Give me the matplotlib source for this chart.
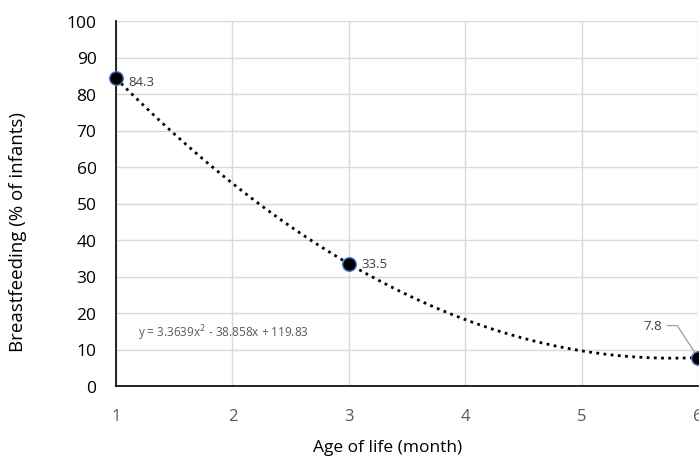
import numpy as np
import matplotlib.pyplot as plt

plt.rcParams['font.family'] = ['Open Sans', 'DejaVu Sans']

# data
age = [1, 3, 6]
breastfeeding = [84.3, 33.5, 7.8]
point_labels = ['84.3', '33.5', '7.8']
x_ticks = [1, 2, 3, 4, 5, 6]
y_ticks = [0, 10, 20, 30, 40, 50, 60, 70, 80, 90, 100]

# quadratic trend line through the points
coef = np.polyfit(age, breastfeeding, 2)
xs = np.linspace(1, 6, 200)
ys = np.polyval(coef, xs)

fig = plt.figure(figsize=(6.99, 4.64), dpi=100)
ax = fig.add_axes([116/699, (464-387)/464, (698-116)/699, (387-22)/464])

ax.plot(xs, ys, color='black', linestyle=(0, (1, 1.6)), linewidth=2, zorder=3)
ax.scatter(age, breastfeeding, s=95, color='black', edgecolors='#4472c4',
           linewidths=1, zorder=4, clip_on=False)

ax.annotate(point_labels[0], (age[0], breastfeeding[0]), xytext=(9, -2.5),
            textcoords='offset points', fontsize=9.5, color='#404040', va='center')
ax.annotate(point_labels[1], (age[1], breastfeeding[1]), xytext=(9, 0),
            textcoords='offset points', fontsize=9.5, color='#404040', va='center')
ax.annotate(point_labels[2], (age[2], breastfeeding[2]), xytext=(-26, 23),
            textcoords='offset points', fontsize=9.5, color='#404040',
            va='center', ha='right',
            arrowprops=dict(arrowstyle='-', color='#a6a6a6', lw=1,
                            connectionstyle='angle,angleA=0,angleB=123,rad=0',
                            shrinkA=2, shrinkB=0))

ax.text(1.19, 14.8, 'y = 3.3639x$^2$ - 38.858x + 119.83', fontsize=8.5,
        color='#595959', va='center')

ax.set_xlim(1, 6)
ax.set_ylim(0, 100)
ax.set_xticks(x_ticks)
ax.set_yticks(y_ticks)
ax.grid(True, color='#d9d9d9', linewidth=1)
ax.set_axisbelow(True)
for s in ['top', 'right']:
    ax.spines[s].set_visible(False)
ax.spines['left'].set_color('black')
ax.spines['bottom'].set_color('black')
ax.spines['left'].set_linewidth(1.2)
ax.spines['bottom'].set_linewidth(1.2)
ax.tick_params(axis='y', length=0, labelsize=12.5, pad=14, labelcolor='black')
ax.tick_params(axis='x', length=0, labelsize=12, pad=16, labelcolor='#595959')

ax.set_xlabel('Age of life (month)', fontsize=12.5)
ax.xaxis.set_label_coords(0.467, -0.146)
ax.set_ylabel('Breastfeeding (% of infants)', fontsize=13.5)
ax.yaxis.set_label_coords(-0.153, 0.425)

fig.savefig('out.png', dpi=100)
